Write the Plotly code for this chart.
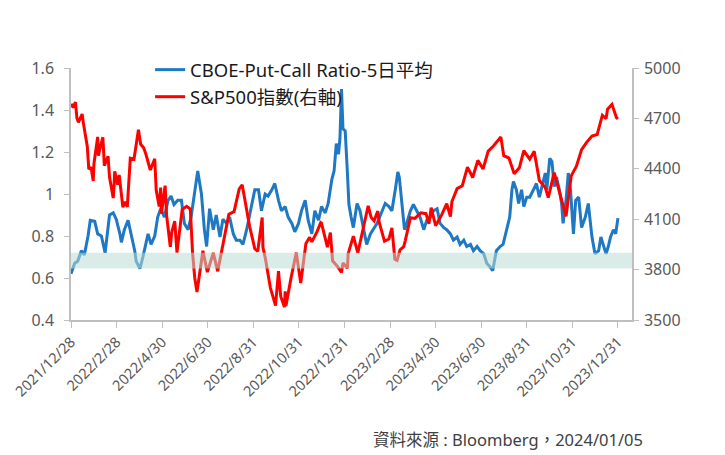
import pandas as pd
import plotly.graph_objects as go

# CBOE Put-Call Ratio 5日平均 (左軸)
pcr_dates = [
    "2021-12-28", "2022-01-02", "2022-01-06", "2022-01-11", "2022-01-15", "2022-01-20",
    "2022-01-23", "2022-01-29", "2022-02-02", "2022-02-07", "2022-02-12", "2022-02-18",
    "2022-02-23", "2022-02-27", "2022-03-04", "2022-03-06", "2022-03-10", "2022-03-15",
    "2022-03-19", "2022-03-24", "2022-03-26", "2022-03-31", "2022-04-04", "2022-04-11",
    "2022-04-15", "2022-04-20", "2022-04-24", "2022-04-28", "2022-05-03", "2022-05-08",
    "2022-05-12", "2022-05-16", "2022-05-21", "2022-05-26", "2022-05-30", "2022-06-04",
    "2022-06-08", "2022-06-13", "2022-06-17", "2022-06-22", "2022-06-26", "2022-06-29",
    "2022-07-03", "2022-07-08", "2022-07-12", "2022-07-17", "2022-07-21", "2022-07-26",
    "2022-07-30", "2022-08-04", "2022-08-08", "2022-08-13", "2022-08-17", "2022-08-22",
    "2022-08-29", "2022-09-02", "2022-09-07", "2022-09-11", "2022-09-16", "2022-09-20",
    "2022-09-25", "2022-09-29", "2022-10-04", "2022-10-08", "2022-10-13", "2022-10-17",
    "2022-10-22", "2022-10-26", "2022-10-31", "2022-11-04", "2022-11-09", "2022-11-13",
    "2022-11-18", "2022-11-22", "2022-11-27", "2022-12-01", "2022-12-06", "2022-12-10",
    "2022-12-15", "2022-12-18", "2022-12-21", "2022-12-24", "2022-12-26", "2022-12-28",
    "2022-12-30", "2023-01-02", "2023-01-05", "2023-01-07", "2023-01-10", "2023-01-13",
    "2023-01-18", "2023-01-22", "2023-01-27", "2023-01-31", "2023-02-05", "2023-02-09",
    "2023-02-14", "2023-02-21", "2023-02-25", "2023-03-02", "2023-03-06", "2023-03-11",
    "2023-03-14", "2023-03-16", "2023-03-20", "2023-03-23", "2023-03-26", "2023-03-31",
    "2023-04-04", "2023-04-09", "2023-04-13", "2023-04-18", "2023-04-22", "2023-04-27",
    "2023-05-01", "2023-05-06", "2023-05-10", "2023-05-15", "2023-05-19", "2023-05-24",
    "2023-05-28", "2023-06-02", "2023-06-06", "2023-06-11", "2023-06-15", "2023-06-20",
    "2023-06-24", "2023-06-29", "2023-07-03", "2023-07-08", "2023-07-12", "2023-07-16",
    "2023-07-20", "2023-07-25", "2023-07-30", "2023-08-03", "2023-08-08", "2023-08-12",
    "2023-08-15", "2023-08-17", "2023-08-21", "2023-08-24", "2023-08-28", "2023-08-31",
    "2023-09-04", "2023-09-08", "2023-09-13", "2023-09-17", "2023-09-21", "2023-09-25",
    "2023-09-29", "2023-10-01", "2023-10-05", "2023-10-08", "2023-10-11", "2023-10-14",
    "2023-10-18", "2023-10-21", "2023-10-23", "2023-10-27", "2023-10-30", "2023-11-02",
    "2023-11-06", "2023-11-09", "2023-11-13", "2023-11-17", "2023-11-22", "2023-11-26",
    "2023-12-01", "2023-12-05", "2023-12-10", "2023-12-13", "2023-12-16", "2023-12-20",
    "2023-12-23", "2023-12-26", "2023-12-30", "2024-01-02", "2024-01-05",
]
pcr_values = [
    0.62, 0.67, 0.68, 0.73, 0.71, 0.80,
    0.875, 0.87, 0.81, 0.80, 0.72, 0.90,
    0.91, 0.88, 0.81, 0.77, 0.83, 0.875,
    0.81, 0.73, 0.68, 0.645, 0.70, 0.81,
    0.76, 0.80, 0.89, 0.93, 0.89, 0.97,
    0.99, 0.95, 0.97, 0.97, 0.86, 0.83,
    0.89, 1.02, 1.11, 1.00, 0.83, 0.75,
    0.93, 0.83, 0.90, 0.795, 0.88, 0.86,
    0.89, 0.81, 0.78, 0.78, 0.76, 0.83,
    0.955, 1.02, 1.02, 0.92, 1.00, 0.99,
    1.02, 1.05, 0.97, 0.92, 0.94, 0.89,
    0.86, 0.82, 0.86, 0.92, 0.97, 0.875,
    0.81, 0.92, 0.875, 0.94, 0.91, 0.955,
    1.07, 1.11, 1.24, 1.19, 1.27, 1.50,
    1.31, 1.30, 1.10, 0.95, 0.89, 0.84,
    0.955, 0.92, 0.83, 0.76, 0.81, 0.83,
    0.86, 0.92, 0.955, 0.94, 0.92, 1.03,
    1.105, 1.08, 0.955, 0.83, 0.86, 0.92,
    0.95, 0.92, 0.89, 0.83, 0.875, 0.89,
    0.92, 0.93, 0.86, 0.84, 0.83, 0.81,
    0.78, 0.795, 0.76, 0.78, 0.75, 0.76,
    0.73, 0.75, 0.73, 0.715, 0.67, 0.655,
    0.635, 0.73, 0.75, 0.76, 0.83, 0.89,
    1.02, 1.06, 1.02, 0.955, 1.02, 0.94,
    0.985, 0.985, 1.02, 1.05, 0.985, 1.04,
    1.10, 1.02, 1.17, 1.155, 1.035, 1.08,
    1.02, 0.955, 0.86, 0.97, 1.10, 1.02,
    0.81, 0.97, 0.985, 0.84, 0.89, 0.955,
    0.795, 0.715, 0.73, 0.795, 0.76, 0.715,
    0.75, 0.795, 0.83, 0.81, 0.885,
]

# S&P500指數 (右軸)
spx_dates = [
    "2021-12-28", "2021-12-31", "2022-01-03", "2022-01-05", "2022-01-07", "2022-01-12",
    "2022-01-14", "2022-01-19", "2022-01-21", "2022-01-24", "2022-01-27", "2022-01-28",
    "2022-02-02", "2022-02-03", "2022-02-04", "2022-02-09", "2022-02-11", "2022-02-16",
    "2022-02-18", "2022-02-23", "2022-02-24", "2022-02-25", "2022-03-01", "2022-03-03",
    "2022-03-08", "2022-03-11", "2022-03-14", "2022-03-18", "2022-03-23", "2022-03-29",
    "2022-04-01", "2022-04-05", "2022-04-08", "2022-04-14", "2022-04-20", "2022-04-22",
    "2022-04-26", "2022-04-28", "2022-04-29", "2022-05-04", "2022-05-06", "2022-05-11",
    "2022-05-13", "2022-05-17", "2022-05-20", "2022-05-27", "2022-06-02", "2022-06-07",
    "2022-06-10", "2022-06-13", "2022-06-16", "2022-06-24", "2022-06-30", "2022-07-08",
    "2022-07-14", "2022-07-22", "2022-07-29", "2022-08-05", "2022-08-12", "2022-08-16",
    "2022-08-19", "2022-08-26", "2022-09-02", "2022-09-06", "2022-09-12", "2022-09-13",
    "2022-09-16", "2022-09-23", "2022-09-30", "2022-10-04", "2022-10-07", "2022-10-12",
    "2022-10-13", "2022-10-14", "2022-10-21", "2022-10-28", "2022-11-03", "2022-11-10",
    "2022-11-15", "2022-11-18", "2022-11-25", "2022-11-30", "2022-12-01", "2022-12-09",
    "2022-12-13", "2022-12-16", "2022-12-22", "2022-12-28", "2022-12-30", "2023-01-05",
    "2023-01-06", "2023-01-13", "2023-01-19", "2023-01-27", "2023-02-02", "2023-02-06",
    "2023-02-10", "2023-02-15", "2023-02-17", "2023-02-24", "2023-03-02", "2023-03-06",
    "2023-03-10", "2023-03-13", "2023-03-17", "2023-03-22", "2023-03-24", "2023-03-31",
    "2023-04-06", "2023-04-14", "2023-04-21", "2023-04-25", "2023-04-28", "2023-05-04",
    "2023-05-12", "2023-05-19", "2023-05-24", "2023-05-26", "2023-06-02", "2023-06-09",
    "2023-06-16", "2023-06-23", "2023-06-30", "2023-07-07", "2023-07-14", "2023-07-21",
    "2023-07-31", "2023-08-04", "2023-08-11", "2023-08-18", "2023-08-25", "2023-08-31",
    "2023-09-08", "2023-09-14", "2023-09-21", "2023-09-29", "2023-10-03", "2023-10-11",
    "2023-10-20", "2023-10-27", "2023-11-03", "2023-11-10", "2023-11-17", "2023-11-24",
    "2023-12-01", "2023-12-08", "2023-12-15", "2023-12-20", "2023-12-22", "2023-12-28",
    "2023-12-29", "2024-01-03", "2024-01-05",
]
spx_values = [
    4786, 4766, 4797, 4701, 4677, 4726,
    4663, 4533, 4398, 4410, 4327, 4432,
    4590, 4478, 4501, 4588, 4419, 4475,
    4349, 4226, 4288, 4385, 4306, 4363,
    4171, 4204, 4173, 4463, 4457, 4632,
    4546, 4525, 4488, 4393, 4460, 4272,
    4175, 4288, 4132, 4300, 4123, 3935,
    4024, 4088, 3901, 4158, 4177, 4161,
    3901, 3750, 3667, 3912, 3785, 3899,
    3790, 3962, 4130, 4145, 4280, 4305,
    4228, 4058, 3924, 3909, 4110, 3933,
    3873, 3693, 3586, 3791, 3640, 3577,
    3670, 3583, 3752, 3901, 3720, 3956,
    3992, 3965, 4026, 4080, 4077, 3934,
    4020, 3852, 3822, 3783, 3840, 3808,
    3895, 3999, 3899, 4071, 4180, 4111,
    4090, 4148, 4079, 3970, 3982, 4048,
    3862, 3855, 3917, 3937, 3971, 4109,
    4105, 4138, 4133, 4072, 4169, 4061,
    4124, 4192, 4115, 4205, 4282, 4299,
    4410, 4348, 4450, 4399, 4505, 4536,
    4589, 4478, 4464, 4370, 4406, 4508,
    4457, 4505, 4330, 4288, 4229, 4377,
    4224, 4117, 4358, 4415, 4514, 4559,
    4595, 4604, 4719, 4698, 4755, 4783,
    4770, 4705, 4697,
]

tick_labels = [
    "2021/12/28", "2022/2/28", "2022/4/30", "2022/6/30", "2022/8/31", "2022/10/31",
    "2022/12/31", "2023/2/28", "2023/4/30", "2023/6/30", "2023/8/31", "2023/10/31",
    "2023/12/31",
]

# 原圖是類別軸, 標籤間距相等
start = pd.Timestamp("2021-12-28")
tick_vals = [start + pd.Timedelta(days=61.5 * i) for i in range(len(tick_labels))]

FONT = "Noto Sans, Noto Sans CJK TC, sans-serif"
AXIS_GRAY = "#bfbfbf"

fig = go.Figure()
fig.add_trace(go.Scatter(
    x=pd.to_datetime(pcr_dates), y=pcr_values, mode="lines",
    name="CBOE-Put-Call Ratio-5日平均",
    line=dict(color="#1f78c4", width=3),
))
fig.add_trace(go.Scatter(
    x=pd.to_datetime(spx_dates), y=spx_values, mode="lines",
    name="S&P500指數(右軸)", yaxis="y2",
    line=dict(color="#ff0000", width=3),
))

# 淺綠色區間 0.65 ~ 0.72
fig.add_shape(
    type="rect", xref="paper", yref="y", x0=0, x1=1, y0=0.645, y1=0.72,
    fillcolor="#b9ddd4", opacity=0.55, line_width=0, layer="above",
)

fig.add_annotation(
    text="資料來源 : Bloomberg，2024/01/05",
    xref="paper", yref="paper", x=1.023, y=-0.476,
    xanchor="right", yanchor="middle", showarrow=False,
    font=dict(size=16.5, color="#404040", family=FONT),
)

# 頁面 body 有 8px 外距, 所以圖寬高各減 8
fig.update_layout(
    width=717, height=447,
    margin=dict(l=63, r=93, t=60, b=135),
    plot_bgcolor="white", paper_bgcolor="white",
    font=dict(family=FONT, size=16, color="#595959"),
    showlegend=True,
    legend=dict(
        x=0.141, y=1.067, xanchor="left", yanchor="top",
        bgcolor="rgba(0,0,0,0)", font=dict(size=18.5, color="#1a1a1a"),
        tracegroupgap=0, itemwidth=30,
    ),
    xaxis=dict(
        type="date", range=["2021-12-28", "2024-01-24"], automargin=False,
        tickvals=tick_vals, ticktext=tick_labels, tickangle=-45,
        ticklabeloverflow="allow", tickfont=dict(size=14.5),
        showline=True, linecolor=AXIS_GRAY, linewidth=1.5,
        ticks="outside", tickcolor=AXIS_GRAY, ticklen=6,
        showgrid=False, zeroline=False,
    ),
    yaxis=dict(
        range=[0.4, 1.6], dtick=0.2, tick0=0.4, automargin=False,
        showline=True, linecolor=AXIS_GRAY, linewidth=1.5,
        ticks="outside", tickcolor=AXIS_GRAY, ticklen=5,
        ticklabelstandoff=7, showgrid=False, zeroline=False,
    ),
    yaxis2=dict(
        range=[3500, 5000], dtick=300, tick0=3500, automargin=False,
        overlaying="y", side="right",
        showline=True, linecolor=AXIS_GRAY, linewidth=1.5,
        ticks="outside", tickcolor=AXIS_GRAY, ticklen=5,
        ticklabelstandoff=2, showgrid=False, zeroline=False,
    ),
)

fig.write_html("out.html")
